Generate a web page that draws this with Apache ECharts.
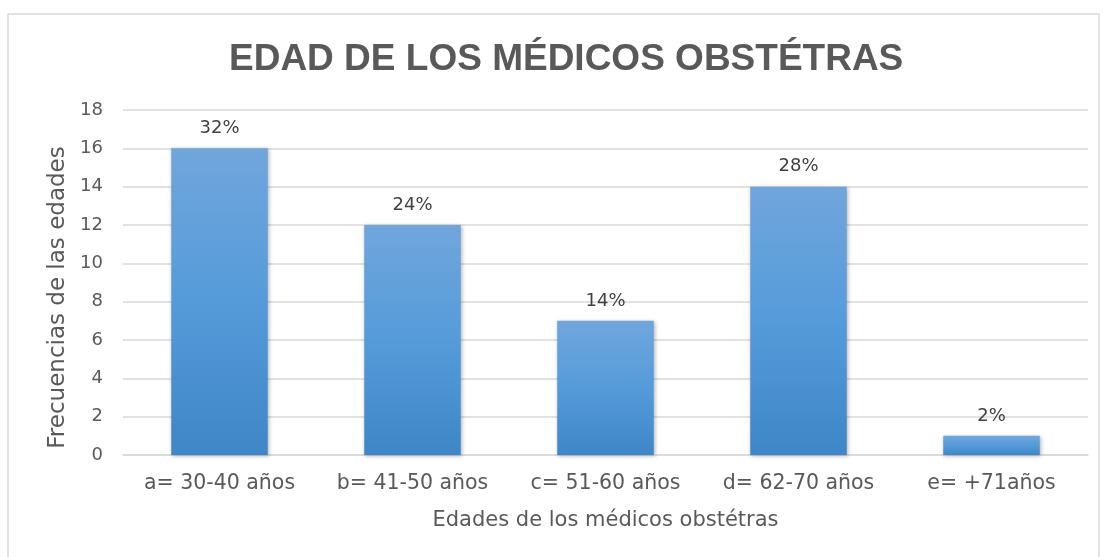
<!DOCTYPE html>
<html>
<head>
<meta charset="utf-8">
<script src="https://cdn.jsdelivr.net/npm/echarts@6/dist/echarts.min.js"></script>
<style>
  html, body { margin: 0; padding: 0; background: #fff; }
  #chart { width: 1106px; height: 557px; }
</style>
</head>
<body>
<div id="chart"></div>
<script>
const categories = ["a= 30-40 años", "b= 41-50 años", "c= 51-60 años", "d= 62-70 años", "e= +71años"];
const frecuencias = [16, 12, 7, 14, 1];
const porcentajes = ["32%", "24%", "14%", "28%", "2%"];
const yTicks = { min: 0, max: 18, interval: 2 };

const chart = echarts.init(document.getElementById("chart"));

const option = {
  animation: false,
  textStyle: { fontFamily: "DejaVu Sans" },
  graphic: [{
    type: "rect",
    shape: { x: 8, y: 14, width: 1091, height: 560 },
    style: { fill: "none", stroke: "#d9d9d9", lineWidth: 1.5 },
    silent: true
  }],
  title: {
    text: "EDAD DE LOS MÉDICOS OBSTÉTRAS",
    left: 224,
    top: 36,
    textStyle: { fontSize: 37, fontWeight: "bold", color: "#595959", fontFamily: "Liberation Sans" }
  },
  grid: { left: 123, right: 18, top: 110, bottom: 102 },
  xAxis: {
    type: "category",
    data: categories,
    name: "Edades de los médicos obstétras",
    nameLocation: "middle",
    nameGap: 55,
    nameTextStyle: { fontSize: 21, color: "#595959" },
    axisLine: { lineStyle: { color: "#d9d9d9", width: 1.5 } },
    axisTick: { show: false },
    axisLabel: { fontSize: 20.5, color: "#595959", margin: 18, interval: 0, hideOverlap: false }
  },
  yAxis: {
    type: "value",
    min: yTicks.min,
    max: yTicks.max,
    interval: yTicks.interval,
    name: "Frecuencias de las edades",
    nameLocation: "middle",
    nameGap: 50,
    nameTextStyle: { fontSize: 23, color: "#595959", padding: [0, 30, 0, 0] },
    axisLine: { show: false },
    axisTick: { show: false },
    axisLabel: { fontSize: 18, color: "#595959", margin: 20 },
    splitLine: { lineStyle: { color: "#d9d9d9", width: 1.5 } }
  },
  series: [{
    type: "bar",
    data: frecuencias,
    barWidth: "50%",
    itemStyle: {
      color: new echarts.graphic.LinearGradient(0, 0, 0, 1, [
        { offset: 0, color: "#70a6dc" },
        { offset: 0.5, color: "#559bda" },
        { offset: 1, color: "#3f86c7" }
      ]),
      shadowColor: "rgba(0,0,0,0.3)",
      shadowBlur: 4,
      shadowOffsetX: 1,
      shadowOffsetY: 1
    },
    label: {
      show: true,
      position: "top",
      distance: 11,
      fontSize: 18,
      color: "#404040",
      formatter: (p) => porcentajes[p.dataIndex]
    }
  }]
};

chart.setOption(option);
</script>
</body>
</html>
